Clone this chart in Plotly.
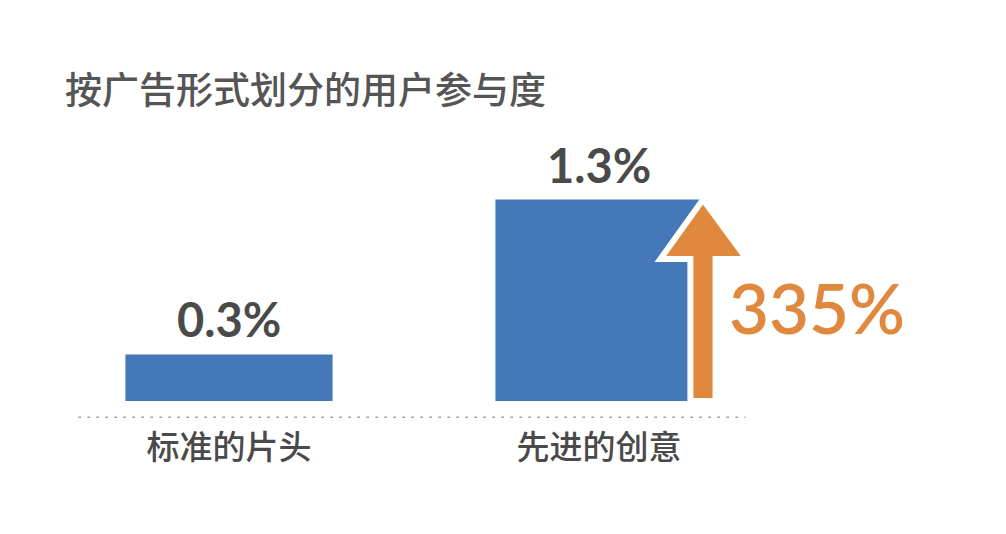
import plotly.graph_objects as go

categories = ["标准的片头", "先进的创意"]
engagement = [0.3, 1.3]
value_labels = ["0.3%", "1.3%"]
lift_label = "335%"
title_text = "按广告形式划分的用户参与度"

BLUE = "#4478B8"
ORANGE = "#E0883E"
DARK = "#4A4A4A"
CJK = "Noto Sans CJK SC, Noto Sans, sans-serif"
NUM = "Lato, Open Sans, sans-serif"

xpos = list(range(len(categories)))
bar_w = 0.56
y_lo = -0.11

fig = go.Figure()
fig.add_trace(go.Bar(
    x=xpos, y=engagement, width=bar_w,
    marker=dict(color=BLUE, line=dict(width=0)),
    hoverinfo="skip",
))

for xi, v, lab in zip(xpos, engagement, value_labels):
    fig.add_annotation(x=xi, y=v, xref="x", yref="y", text=lab, showarrow=False,
                       yanchor="bottom", yshift=5,
                       font=dict(family=NUM, size=47, color=DARK, weight="bold"))

# arrow next to the second bar, derived from its value
xi = xpos[1]
top = engagement[1]
sx0, sx1 = xi + 0.247, xi + 0.315
hx0, hx1 = xi + 0.166, xi + 0.399
hy = top * 0.705
tx = (sx0 + sx1) / 2
path = (f"M {sx0},0 L {sx0},{hy} L {hx0},{hy} L {tx},{top} "
        f"L {hx1},{hy} L {sx1},{hy} L {sx1},0 Z")
fig.add_shape(type="path", path=path, xref="x", yref="y",
              fillcolor=ORANGE, line=dict(color="white", width=6), layer="above")

fig.add_annotation(x=xi + 0.59, y=top * 0.466, xref="x", yref="y",
                   text=lift_label, showarrow=False,
                   font=dict(family=NUM, size=69, color=ORANGE, weight=600))

# dotted baseline
fig.add_shape(type="line", xref="x", yref="y", x0=-0.407, x1=1.396, y0=y_lo, y1=y_lo,
              line=dict(color="#999999", width=3, dash="2.5px,6.5px"), layer="below")

fig.update_layout(
    width=1006, height=534,
    margin=dict(l=36, r=193, t=132, b=124),
    paper_bgcolor="white", plot_bgcolor="white",
    showlegend=False,
    title=dict(text=title_text, x=57 / 1006, xanchor="left", xref="container",
               y=1 - 83 / 534, yanchor="middle", yref="container",
               font=dict(family=CJK, size=37, color="#555555", weight=500)),
    xaxis=dict(range=[-0.5, 1.6], tickvals=xpos, ticktext=categories,
               showgrid=False, zeroline=False, showline=False, ticks="",
               ticklabelstandoff=7,
               tickfont=dict(family=CJK, size=33, color=DARK, weight=500),
               fixedrange=True),
    yaxis=dict(range=[y_lo, 1.684], visible=False, fixedrange=True),
)

fig.write_html("out.html")
